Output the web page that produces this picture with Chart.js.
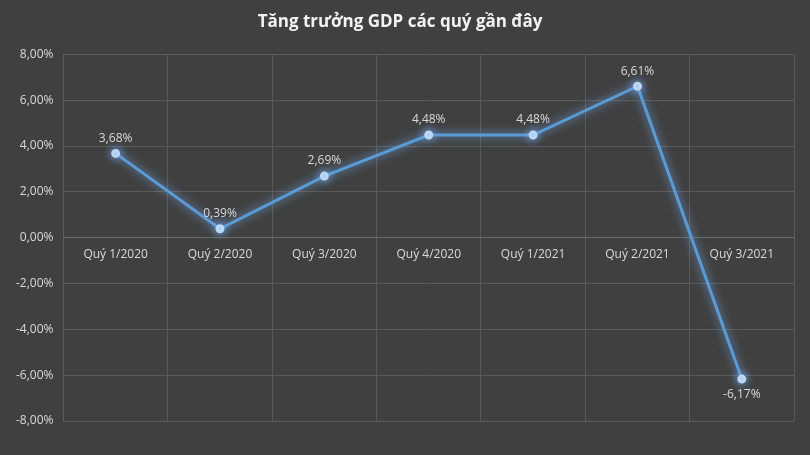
<!DOCTYPE html>
<html><head><meta charset="utf-8">
<script src="https://cdn.jsdelivr.net/npm/chart.js@4/dist/chart.umd.min.js"></script>
<style>html,body{margin:0;padding:0;background:#404040;}#w{width:810px;height:455px;}</style>
</head><body><div id="w"><canvas id="c" width="810" height="455"></canvas></div>
<script>
const categories=["Quý 1/2020","Quý 2/2020","Quý 3/2020","Quý 4/2020","Quý 1/2021","Quý 2/2021","Quý 3/2021"];
const gdp=[3.68,0.39,2.69,4.48,4.48,6.61,-6.17];
const fmt=v=>v.toFixed(2).replace('.',',')+'%';
const glow={id:'glow',
 beforeDatasetDraw(ch){const c=ch.ctx;c.save();c.shadowColor='rgba(120,180,255,0.9)';c.shadowBlur=10;},
 afterDatasetDraw(ch){ch.ctx.restore();},
 afterDatasetsDraw(ch){const c=ch.ctx,m=ch.getDatasetMeta(0);c.save();c.font='12px "Open Sans", sans-serif';c.fillStyle='#d9d9d9';c.textAlign='center';
  m.data.forEach((p,i)=>{const v=gdp[i];if(v<0){c.textBaseline='top';c.fillText(fmt(v),p.x,p.y+10);}else{c.textBaseline='bottom';c.fillText(fmt(v),p.x,p.y-9);}});c.restore();}};
new Chart(document.getElementById('c'),{type:'line',
 data:{labels:categories,datasets:[{data:gdp,borderColor:'#5b9bd5',borderWidth:3,pointRadius:3,pointBackgroundColor:'#bcd7f2',pointBorderColor:'#bcd7f2',tension:0}]},
 options:{responsive:false,animation:false,layout:{padding:{left:6,right:16,top:8,bottom:34}},
  plugins:{legend:{display:false},tooltip:{enabled:false},title:{display:true,text:'Tăng trưởng GDP các quý gần đây',color:'#f2f2f2',font:{size:17,weight:'bold',family:'"Open Sans", sans-serif'},padding:{top:4,bottom:22}}},
  scales:{
   x:{position:{y:0},offset:true,grid:{offset:true,color:'#5a5a5a',drawTicks:false},border:{color:'#6a6a6a'},ticks:{color:'#d9d9d9',padding:10,font:{size:12,family:'"Open Sans", sans-serif'}}},
   y:{min:-8,max:8,grid:{color:'#5a5a5a',drawTicks:false},border:{display:false},ticks:{stepSize:2,color:'#d9d9d9',padding:10,font:{size:12,family:'"Open Sans", sans-serif'},callback:v=>fmt(v)}}
  }}, plugins:[glow]});
</script></body></html>
